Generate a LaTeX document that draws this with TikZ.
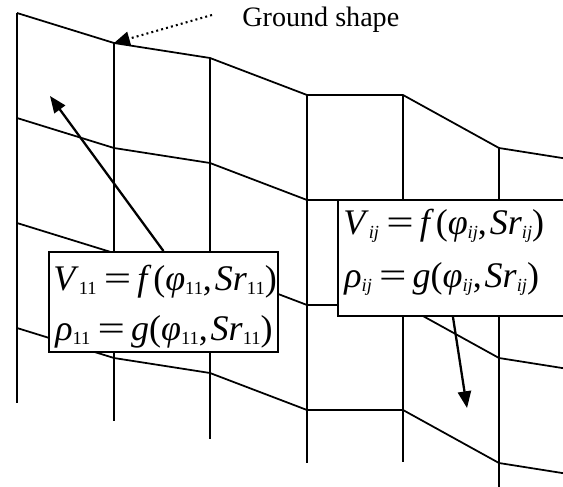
\documentclass[tikz,border=0pt]{standalone}
\usepackage{graphicx}
\usepackage{fontspec}
\setmainfont{Liberation Serif}
\usetikzlibrary{arrows.meta, positioning, calc}
\newcommand{\idx}[1]{\raisebox{-0.12em}{\fontsize{10.5}{11}\selectfont #1}}
\newcommand{\eqsign}{\hspace{0.2em}\scalebox{1.35}[1]{=}\hspace{0.17em}}
\tikzset{
  meshline/.style={line width=1pt, line join=miter, color=black},
  eqbox/.style={rectangle, draw=black, line width=1.1pt, fill=white, inner sep=0pt},
  eqtext/.style={anchor=base west, inner sep=0pt, font=\fontsize{20.5}{25}\selectfont},
  bigarrow/.style={-{Triangle[length=9.5pt, width=7.5pt]}, line width=1.3pt},
  dotarrow/.style={-{Triangle[length=9pt, width=8pt]}, line width=1.2pt, dash pattern=on 1.1pt off 1.8pt},
}

\begin{document}
\begin{tikzpicture}[x=0.02cm, y=-0.02cm]
  \useasboundingbox (0,0) rectangle (563,486);
  \clip (0,0) rectangle (563,486);

  \foreach \dy in {0,105,210,315}
    \draw[meshline] (17,13+\dy) -- (114,43+\dy) -- (210,58+\dy) -- (307,95+\dy) -- (403,95+\dy) -- (499,148+\dy) -- (600,164+\dy);
  \foreach \x/\ytop/\ybot in {17/13/403, 114/43/421, 210/58/439, 307/95/463, 403/95/462, 499/148/500}
    \draw[meshline] (\x,\ytop) -- (\x,\ybot);

  \node[eqbox, anchor=north west, minimum width=4.58cm, minimum height=2cm] (lbox) at (48,251) {};
  \node[eqtext] (lv) at (53,290) {\textit{V}\idx{11}\eqsign\textit{f}\hspace{0.05em}(\textit{φ}\idx{11},\hspace{0.08em}\textit{Sr}\idx{11})};
  \node[eqtext] (lr) at (55,340) {\textit{ρ}\idx{11}\eqsign\textit{g}(\textit{φ}\idx{11},\hspace{0.08em}\textit{Sr}\idx{11})};

  \node[eqbox, anchor=north west, minimum width=4.6cm, minimum height=2.32cm] (rbox) at (337,199) {};
  \node[eqtext] (rv) at (343,234) {\textit{V}\idx{\textit{ij}}\eqsign\textit{f}\hspace{0.05em}(\textit{φ}\idx{\textit{ij}},\hspace{0.08em}\textit{Sr}\idx{\textit{ij}})};
  \node[eqtext] (rr) at (344,287) {\textit{ρ}\idx{\textit{ij}}\eqsign\textit{g}(\textit{φ}\idx{\textit{ij}},\hspace{0.08em}\textit{Sr}\idx{\textit{ij}})};

  \node[anchor=base west, inner sep=0pt, font=\fontsize{16}{19}\selectfont] (ground) at (242,27) {Ground shape};
  \coordinate (corner) at (114,43);
  \coordinate (dotstart) at (212,15);
  \coordinate (ltip) at (50,96);
  \coordinate (rtip) at (467,408);

  \draw[dotarrow] (dotstart) -- (corner);
  \draw[bigarrow] (lbox.north) -- (ltip);
  \draw[bigarrow] (rbox.south) -- (rtip);
\end{tikzpicture}
\end{document}
